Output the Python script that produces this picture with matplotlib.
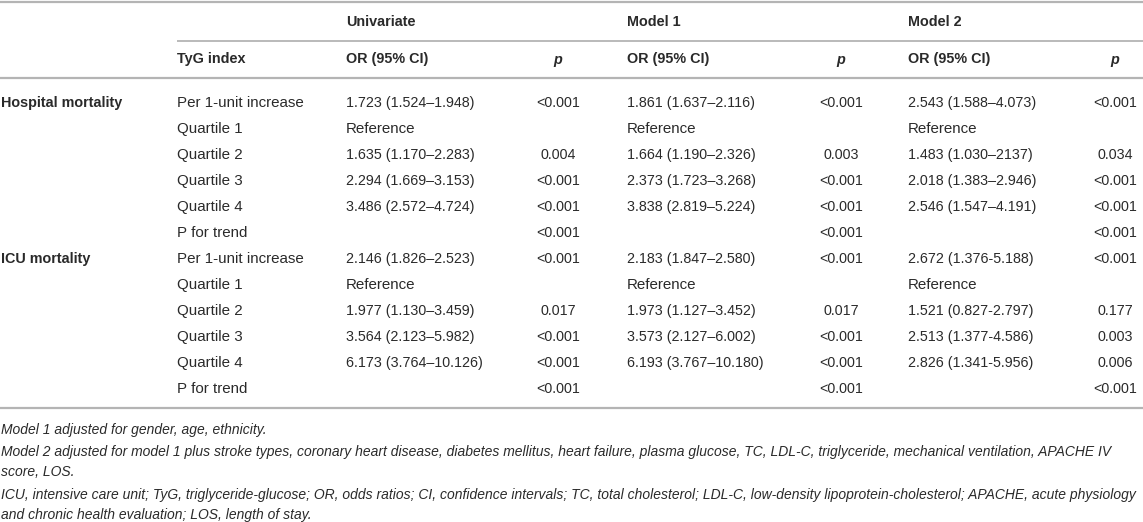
import matplotlib
matplotlib.use("Agg")
import matplotlib.pyplot as plt

# Tabellen-Daten
outcomes = ["Hospital mortality", "ICU mortality"]
tyg_rows = ["Per 1-unit increase", "Quartile 1", "Quartile 2", "Quartile 3",
            "Quartile 4", "P for trend"]

uni_or = ["1.723 (1.524\u20131.948)", "Reference", "1.635 (1.170\u20132.283)",
          "2.294 (1.669\u20133.153)", "3.486 (2.572\u20134.724)", "",
          "2.146 (1.826\u20132.523)", "Reference", "1.977 (1.130\u20133.459)",
          "3.564 (2.123\u20135.982)", "6.173 (3.764\u201310.126)", ""]
uni_p = ["<0.001", "", "0.004", "<0.001", "<0.001", "<0.001",
         "<0.001", "", "0.017", "<0.001", "<0.001", "<0.001"]

m1_or = ["1.861 (1.637\u20132.116)", "Reference", "1.664 (1.190\u20132.326)",
         "2.373 (1.723\u20133.268)", "3.838 (2.819\u20135.224)", "",
         "2.183 (1.847\u20132.580)", "Reference", "1.973 (1.127\u20133.452)",
         "3.573 (2.127\u20136.002)", "6.193 (3.767\u201310.180)", ""]
m1_p = ["<0.001", "", "0.003", "<0.001", "<0.001", "<0.001",
        "<0.001", "", "0.017", "<0.001", "<0.001", "<0.001"]

m2_or = ["2.543 (1.588\u20134.073)", "Reference", "1.483 (1.030\u20132137)",
         "2.018 (1.383\u20132.946)", "2.546 (1.547\u20134.191)", "",
         "2.672 (1.376-5.188)", "Reference", "1.521 (0.827-2.797)",
         "2.513 (1.377-4.586)", "2.826 (1.341-5.956)", ""]
m2_p = ["<0.001", "", "0.034", "<0.001", "<0.001", "<0.001",
        "<0.001", "", "0.177", "0.003", "0.006", "<0.001"]

groups = ["Univariate", "Model 1", "Model 2"]

footnotes = [
    "Model 1 adjusted for gender, age, ethnicity.",
    "Model 2 adjusted for model 1 plus stroke types, coronary heart disease, diabetes mellitus, "
    "heart failure, plasma glucose, TC, LDL-C, triglyceride, mechanical ventilation, APACHE IV",
    "score, LOS.",
    "ICU, intensive care unit; TyG, triglyceride-glucose; OR, odds ratios; CI, confidence intervals; "
    "TC, total cholesterol; LDL-C, low-density lipoprotein-cholesterol; APACHE, acute physiology",
    "and chronic health evaluation; LOS, length of stay.",
]

W, H = 1143, 522
plt.rcParams['font.family'] = ['Liberation Sans', 'DejaVu Sans']
TXT = '#2a2a2a'
LINE = '#b4b4b4'
FS_LAB = 10.9   # Textlabels
FS_NUM = 10.3   # Zahlen
FS_HEAD = 10.4  # fette Kopfzeilen
FS_NOTE = 10.0  # Fußnoten

fig = plt.figure(figsize=(W / 100, H / 100), dpi=100)
ax = fig.add_axes([0, 0, 1, 1])
ax.set_xlim(0, W)
ax.set_ylim(H, 0)
ax.axis('off')

# Spalten-Positionen (Pixel)
x_out = 1
x_tyg = 177
x_or = [346, 627, 908]
x_p = [558, 841, 1115]

# Linien
ax.plot([0, W], [2, 2], color=LINE, lw=1.6, solid_capstyle='butt')
ax.plot([x_tyg, W], [41, 41], color=LINE, lw=1.3, solid_capstyle='butt')
ax.plot([0, W], [78, 78], color=LINE, lw=1.6, solid_capstyle='butt')
ax.plot([0, W], [408, 408], color=LINE, lw=1.6, solid_capstyle='butt')

# Kopfzeilen
for g, x in zip(groups, x_or):
    ax.text(x, 22, g, fontsize=FS_HEAD, fontweight='bold', color=TXT, va='center', ha='left')
ax.text(x_tyg, 59, "TyG index", fontsize=FS_HEAD, fontweight='bold', color=TXT, va='center')
for xo, xp in zip(x_or, x_p):
    ax.text(xo, 59, "OR (95% CI)", fontsize=FS_HEAD, fontweight='bold', color=TXT, va='center')
    ax.text(xp, 60, "p", fontsize=FS_HEAD, fontweight='bold', style='italic', color=TXT,
            va='center', ha='center')

# Datenzeilen
y0, dy = 103, 26.0
cols_or = [uni_or, m1_or, m2_or]
cols_p = [uni_p, m1_p, m2_p]
for i in range(12):
    y = y0 + i * dy
    if i % 6 == 0:
        ax.text(x_out, y, outcomes[i // 6], fontsize=FS_HEAD, fontweight='bold', color=TXT,
                va='center')
    ax.text(x_tyg, y, tyg_rows[i % 6], fontsize=FS_LAB, color=TXT, va='center')
    for k in range(3):
        fs = FS_LAB if cols_or[k][i] == "Reference" else FS_NUM
        ax.text(x_or[k], y, cols_or[k][i], fontsize=fs, color=TXT, va='center')
        ax.text(x_p[k], y, cols_p[k][i], fontsize=FS_NUM, color=TXT, va='center', ha='center')

# Fußnoten
fy = [430, 452, 472, 495, 515]
for t, y in zip(footnotes, fy):
    ax.text(1, y, t, fontsize=FS_NOTE, style='italic', color=TXT, va='center')

fig.savefig("out.png", dpi=100)
